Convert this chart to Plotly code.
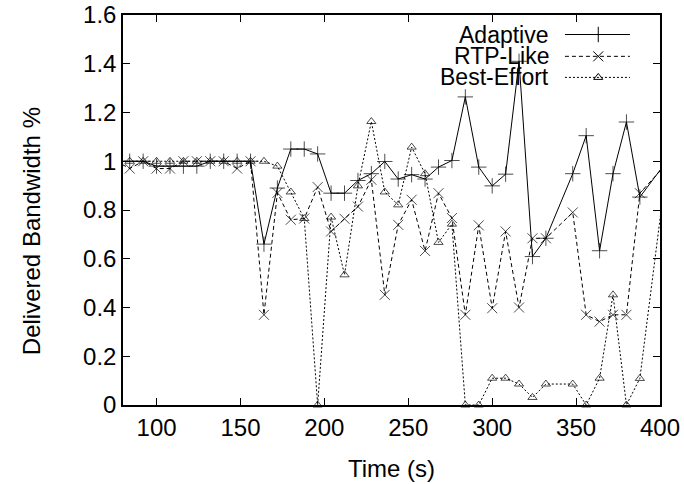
import plotly.graph_objects as go

# ---- data ----
time_s = [76, 84, 92, 100, 108, 116, 124, 132, 140, 148, 156, 164, 172, 180, 188, 196,
          204, 212, 220, 228, 236, 244, 252, 260, 268, 276, 284, 292, 300, 308, 316,
          324, 332, 348, 356, 364, 372, 380, 388, 404]

adaptive = [1.0, 1.0, 1.0, 0.98, 0.98, 0.98, 0.98, 1.0, 1.0, 1.0, 1.0, 0.66, 0.89, 1.05, 1.05, 1.03,
            0.869, 0.869, 0.921, 0.949, 0.999, 0.927, 0.945, 0.927, 0.976, 1.003, 1.264, 0.976, 0.899, 0.947, 1.41,
            0.609, 0.684, 0.949, 1.105, 0.633, 0.949, 1.161, 0.853, 1.0]

rtp_like = [1.0, 0.97, 1.0, 0.97, 0.97, 1.0, 1.0, 1.0, 1.0, 0.97, 1.0, 0.37, 0.87, 0.76, 0.765, 0.894,
            0.712, 0.764, 0.814, 0.924, 0.452, 0.739, 0.842, 0.632, 0.869, 0.767, 0.37, 0.737, 0.397, 0.712, 0.40,
            0.684, 0.684, 0.79, 0.37, 0.342, 0.37, 0.37, 0.869, 0.99]

best_effort = [1.0, 1.0, 1.0, 1.0, 1.0, 1.0, 1.0, 1.0, 1.0, 1.0, 1.0, 1.0, 0.98, 0.874, 0.765, 0.0,
               0.771, 0.534, 0.899, 1.163, 0.874, 0.821, 1.058, 0.949, 0.667, 0.742, 0.0, 0.0, 0.11, 0.11, 0.086,
               0.031, 0.086, 0.086, 0.0, 0.11, 0.452, 0.0, 0.109, 0.98]

series_names = ["Adaptive", "RTP-Like", "Best-Effort"]
x_ticks = [100, 150, 200, 250, 300, 350, 400]
y_ticks = [0, 0.2, 0.4, 0.6, 0.8, 1, 1.2, 1.4, 1.6]
x_range = [80, 400]
y_range = [0, 1.6]

FONT = "Liberation Sans, Arial, Helvetica, sans-serif"
FS = 24
LEG_FS = 23

styles = [
    dict(dash="solid", symbol="cross-thin-open", size=11),
    dict(dash="4px,3px", symbol="x-thin-open", size=10),
    dict(dash="2px,2px", symbol="triangle-up-open", size=8),
]

# hide markers for points lying outside the visible time range
def sizes(sz):
    return [sz if x_range[0] <= t <= x_range[1] else 0 for t in time_s]

fig = go.Figure()
for name, vals, st in zip(series_names, [adaptive, rtp_like, best_effort], styles):
    fig.add_trace(go.Scatter(
        x=time_s, y=vals, mode="lines+markers", name=name, showlegend=False,
        cliponaxis=False,
        line=dict(color="black", width=1, dash=st["dash"]),
        marker=dict(symbol=st["symbol"], size=sizes(st["size"]), color="black",
                    line=dict(color="black", width=1)),
    ))

# custom gnuplot-style legend (text left, sample right), on an overlay axis
leg_rows = [0.950, 0.894, 0.840]
for name, st, yy in zip(series_names, styles, leg_rows):
    fig.add_trace(go.Scatter(
        x=[0.823, 0.885, 0.944], y=[yy, yy, yy], xaxis="x2", yaxis="y2",
        mode="lines", showlegend=False, hoverinfo="skip",
        line=dict(color="black", width=1, dash=st["dash"]),
    ))
    fig.add_trace(go.Scatter(
        x=[0.885], y=[yy], xaxis="x2", yaxis="y2",
        mode="markers", showlegend=False, hoverinfo="skip",
        marker=dict(symbol=st["symbol"], size=st["size"], color="black",
                    line=dict(color="black", width=1)),
    ))
    fig.add_annotation(x=0.797, y=yy, xref="x2", yref="y2", text=name,
                       showarrow=False, xanchor="right", yanchor="middle",
                       font=dict(family=FONT, size=LEG_FS, color="black"))

# y-axis title placed like gnuplot's ylabel
fig.add_annotation(x=-0.17, y=0.445, xref="paper", yref="paper",
                   text="Delivered Bandwidth %", textangle=-90, showarrow=False,
                   xanchor="center", yanchor="middle",
                   font=dict(family=FONT, size=FS, color="black"))

axis_common = dict(showline=True, linecolor="black", linewidth=1.5, mirror="ticks",
                   ticks="inside", ticklen=7, tickwidth=1, tickcolor="black",
                   showgrid=False, zeroline=False, automargin=False,
                   tickfont=dict(family=FONT, size=FS, color="black"))

fig.update_layout(
    width=684, height=484,
    margin=dict(l=123, r=24, t=15, b=79, autoexpand=False),
    paper_bgcolor="white", plot_bgcolor="white",
    showlegend=False,
    font=dict(family=FONT, size=FS, color="black"),
    xaxis=dict(range=x_range, tickvals=x_ticks, ticktext=[str(v) for v in x_ticks],
               title=dict(text="Time (s)", standoff=21,
                          font=dict(family=FONT, size=FS, color="black")),
               **axis_common),
    yaxis=dict(range=y_range, tickvals=y_ticks, ticktext=[f"{v:g}" for v in y_ticks],
               **axis_common),
    xaxis2=dict(range=[0, 1], overlaying="x", visible=False, fixedrange=True),
    yaxis2=dict(range=[0, 1], overlaying="y", visible=False, fixedrange=True),
)

# remove the default 8px page margin so the figure fills the window exactly
fig.write_html("out.html",
               config={"displayModeBar": False},
               post_script="document.body.style.margin='0';document.body.style.overflow='hidden';")
